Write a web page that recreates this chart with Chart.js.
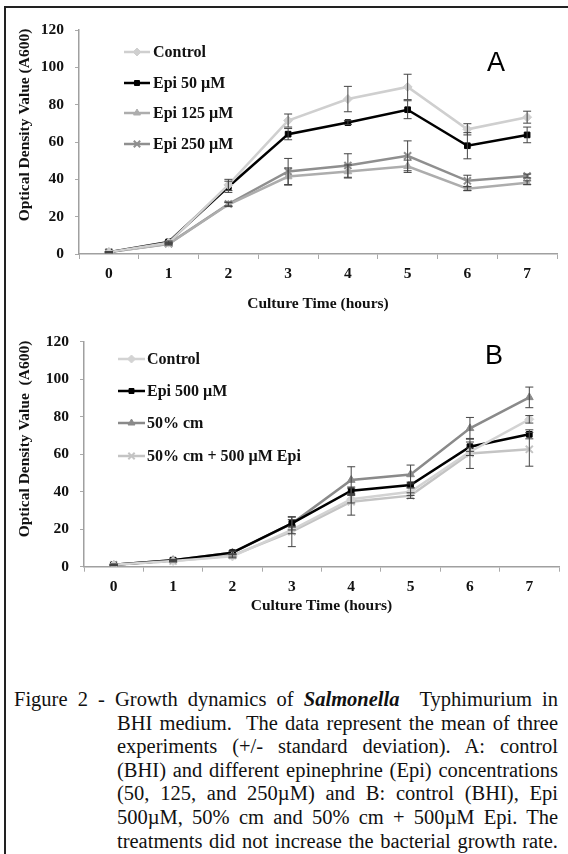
<!DOCTYPE html>
<html>
<head>
<meta charset="utf-8">
<script src="https://cdn.jsdelivr.net/npm/chart.js@4.4.1/dist/chart.umd.min.js"></script>
<style>
html, body { margin: 0; padding: 0; background: #fff; }
body { width: 568px; height: 854px; position: relative; overflow: hidden; }
#frame { position: absolute; left: 4px; top: 6px; width: 600px; height: 900px; border-top: 2px solid #222; border-left: 2px solid #222; }
#chartA { position: absolute; left: 0; top: 0; }
#chartB { position: absolute; left: 0; top: 320px; }
#caption { position: absolute; left: 14px; top: 688px; width: 544px; font-family: "Liberation Serif", serif; font-size: 20.5px; line-height: 23.6px; color: #111; }
#caption div { text-align: justify; text-align-last: justify; white-space: nowrap; }
#caption .ind { margin-left: 103px; }
</style>
</head>
<body>
<div id="frame"></div>
<canvas id="chartA" width="568" height="322"></canvas>
<canvas id="chartB" width="568" height="302"></canvas>
<div id="caption">
  <div>Figure 2 - Growth dynamics of <b><i>Salmonella</i></b>&nbsp; Typhimurium in</div>
  <div class="ind">BHI medium.&nbsp; The data represent the mean of three</div>
  <div class="ind">experiments (+/- standard deviation). A: control</div>
  <div class="ind">(BHI) and different epinephrine (Epi) concentrations</div>
  <div class="ind">(50, 125, and 250µM) and B: control (BHI), Epi</div>
  <div class="ind">500µM, 50% cm and 50% cm + 500µM Epi. The</div>
  <div class="ind">treatments did not increase the bacterial growth rate.</div>
</div>
<script>
// culture time categories and y tick values
const hours = ['0', '1', '2', '3', '4', '5', '6', '7'];
const yTickValues = [0, 20, 40, 60, 80, 100, 120];

// panel A: control vs epinephrine concentrations
const controlA = [1, 6, 37, 71.5, 83, 89.5, 66.8, 73.3];
const epi50 = [1, 6.5, 36, 64.2, 70.4, 77.3, 58, 63.8];
const epi125 = [1, 5.3, 26.5, 41.5, 44.2, 47, 35, 38.2];
const epi250 = [1, 5.5, 26.8, 44.2, 47.4, 52.6, 39.2, 41.8];
const controlAErr = [0.3, 0.5, 3, 3.5, 6.8, 6.8, 3, 3.2];
const epi50Err = [0.3, 0.5, 3, 3, 1, 4.8, 7, 4.2];
const epi125Err = [0.3, 0.5, 1, 4.6, 3.5, 3.3, 1, 1];
const epi250Err = [0.3, 0.5, 1, 7, 6.3, 8, 3, 1];

// panel B: control, Epi 500, conditioned medium
const controlB = [1, 3, 5.5, 19.6, 36, 40, 61.3, 78.6];
const epi500 = [1, 3.5, 7.5, 23.1, 40.5, 43.6, 64, 70.6];
const cm50 = [1, 3.5, 7.5, 23, 46.2, 49.2, 73.8, 90.3];
const cm50Epi = [1, 3, 6, 18.7, 34.7, 37.9, 60.4, 62.6];
const controlBErr = [0.3, 0.4, 0.8, 2, 2, 2, 2, 2];
const epi500Err = [0.3, 0.4, 0.8, 2, 2, 1.5, 2.5, 2.4];
const cm50Err = [0.3, 0.4, 0.8, 3.4, 7.1, 5, 5.8, 5.5];
const cm50EpiErr = [0.3, 0.4, 0.8, 8, 7.2, 1.5, 8, 9];

const serif = '"Liberation Serif", "Times New Roman", serif';

function series(label, data, errors, color, pointStyle, radius) {
    return {
        label: label,
        data: data,
        errors: errors,
        borderColor: color,
        backgroundColor: color,
        borderWidth: 2.5,
        pointStyle: pointStyle,
        pointRadius: radius,
        pointBorderWidth: pointStyle === 'crossRot' ? 2 : 1,
        tension: 0
    };
}

// error bars, drawn from each dataset's errors array
const errorBars = {
    id: 'errorBars',
    afterDatasetsDraw(chart) {
        const ctx = chart.ctx;
        const xs = chart.scales.x, ys = chart.scales.y;
        ctx.save();
        ctx.strokeStyle = '#444';
        ctx.lineWidth = 1;
        chart.data.datasets.forEach(ds => {
            ds.data.forEach((v, i) => {
                const e = ds.errors[i];
                const x = xs.getPixelForValue(i);
                const top = ys.getPixelForValue(v + e);
                const bot = ys.getPixelForValue(v - e);
                ctx.beginPath();
                ctx.moveTo(x, top); ctx.lineTo(x, bot);
                ctx.moveTo(x - 4, top); ctx.lineTo(x + 4, top);
                ctx.moveTo(x - 4, bot); ctx.lineTo(x + 4, bot);
                ctx.stroke();
            });
        });
        ctx.restore();
    }
};

// inset legend, y title and panel letter
const decorations = {
    id: 'decorations',
    afterDraw(chart, args, opts) {
        const ctx = chart.ctx;
        ctx.save();
        chart.data.datasets.forEach((ds, i) => {
            const y = opts.legendY[i];
            ctx.strokeStyle = ds.borderColor;
            ctx.lineWidth = 2.5;
            ctx.beginPath();
            ctx.moveTo(opts.lineX[0], y);
            ctx.lineTo(opts.lineX[1], y);
            ctx.stroke();
            ctx.fillStyle = ds.backgroundColor;
            ctx.lineWidth = ds.pointBorderWidth;
            Chart.helpers.drawPoint(ctx, { pointStyle: ds.pointStyle, radius: ds.pointRadius - 0.5, rotation: 0, borderWidth: ds.pointBorderWidth },
                (opts.lineX[0] + opts.lineX[1]) / 2, y);
            ctx.fillStyle = '#111';
            ctx.font = 'bold 16px ' + serif;
            ctx.textAlign = 'left';
            ctx.textBaseline = 'middle';
            ctx.fillText(ds.label, opts.textX, y + 1);
        });
        ctx.fillStyle = '#111';
        ctx.font = 'bold 15.5px ' + serif;
        ctx.textAlign = 'center';
        ctx.textBaseline = 'middle';
        ctx.save();
        ctx.translate(opts.yTitleX, opts.yTitleY);
        ctx.rotate(-Math.PI / 2);
        ctx.fillText(opts.yTitle, 0, 0);
        ctx.restore();
        ctx.font = '27px "Liberation Sans", Arial, sans-serif';
        ctx.fillStyle = '#000';
        ctx.fillText(opts.letter, opts.letterX, opts.letterY);
        ctx.restore();
    }
};

function makeChart(id, datasets, deco, box) {
    return new Chart(document.getElementById(id), {
        type: 'line',
        data: { labels: hours, datasets: datasets },
        plugins: [errorBars, decorations],
        options: {
            responsive: false,
            animation: false,
            layout: { padding: { left: 0, right: box.right, top: box.top, bottom: 0 } },
            plugins: {
                legend: { display: false },
                tooltip: { enabled: false },
                decorations: deco
            },
            scales: {
                x: {
                    offset: true,
                    grid: { offset: true, drawOnChartArea: false, tickLength: 5, color: '#aaa' },
                    border: { color: '#a0a0a0', width: 1.5 },
                    ticks: { color: '#111', font: { family: serif, size: 15.5, weight: 'bold' }, padding: 6 },
                    title: { display: true, text: 'Culture Time (hours)', color: '#111',
                        font: { family: serif, size: 15.5, weight: 'bold' }, padding: { top: 0, bottom: box.titlePad } },
                    afterFit(scale) { scale.height = box.xHeight; }
                },
                y: {
                    min: 0, max: 120,
                    afterBuildTicks(scale) { scale.ticks = yTickValues.map(v => ({ value: v })); },
                    grid: { drawOnChartArea: false, tickLength: 4, color: '#aaa' },
                    border: { color: '#a0a0a0', width: 1.5 },
                    ticks: { color: '#111', font: { family: serif, size: 15.5, weight: 'bold' }, padding: 11 },
                    afterFit(scale) { scale.width = box.yWidth; }
                }
            }
        }
    });
}

makeChart('chartA', [
    series('Control', controlA, controlAErr, '#cfcfcf', 'rectRot', 4.5),
    series('Epi 50 µM', epi50, epi50Err, '#000000', 'rect', 4),
    series('Epi 125 µM', epi125, epi125Err, '#adadad', 'triangle', 4.5),
    series('Epi 250 µM', epi250, epi250Err, '#8f8f8f', 'crossRot', 5)
], {
    legendY: [52, 83, 113, 144], lineX: [124, 150], textX: 153,
    yTitle: 'Optical Density Value (A600)', yTitleX: 25, yTitleY: 125,
    letter: 'A', letterX: 496, letterY: 64
}, { right: 11, top: 30, xHeight: 68, titlePad: 9, yWidth: 79 });

makeChart('chartB', [
    series('Control', controlB, controlBErr, '#d3d3d3', 'rectRot', 4.5),
    series('Epi 500 µM', epi500, epi500Err, '#000000', 'rect', 4),
    series('50% cm', cm50, cm50Err, '#8a8a8a', 'triangle', 4.5),
    series('50% cm + 500 µM Epi', cm50Epi, cm50EpiErr, '#c4c4c4', 'crossRot', 5)
], {
    legendY: [39, 71, 103, 136], lineX: [118, 145], textX: 147,
    yTitle: 'Optical Density Value  (A600)', yTitleX: 25, yTitleY: 119,
    letter: 'B', letterX: 494, letterY: 37
}, { right: 9, top: 21.7, xHeight: 55.3, titlePad: 7, yWidth: 84 });
</script>
</body>
</html>
